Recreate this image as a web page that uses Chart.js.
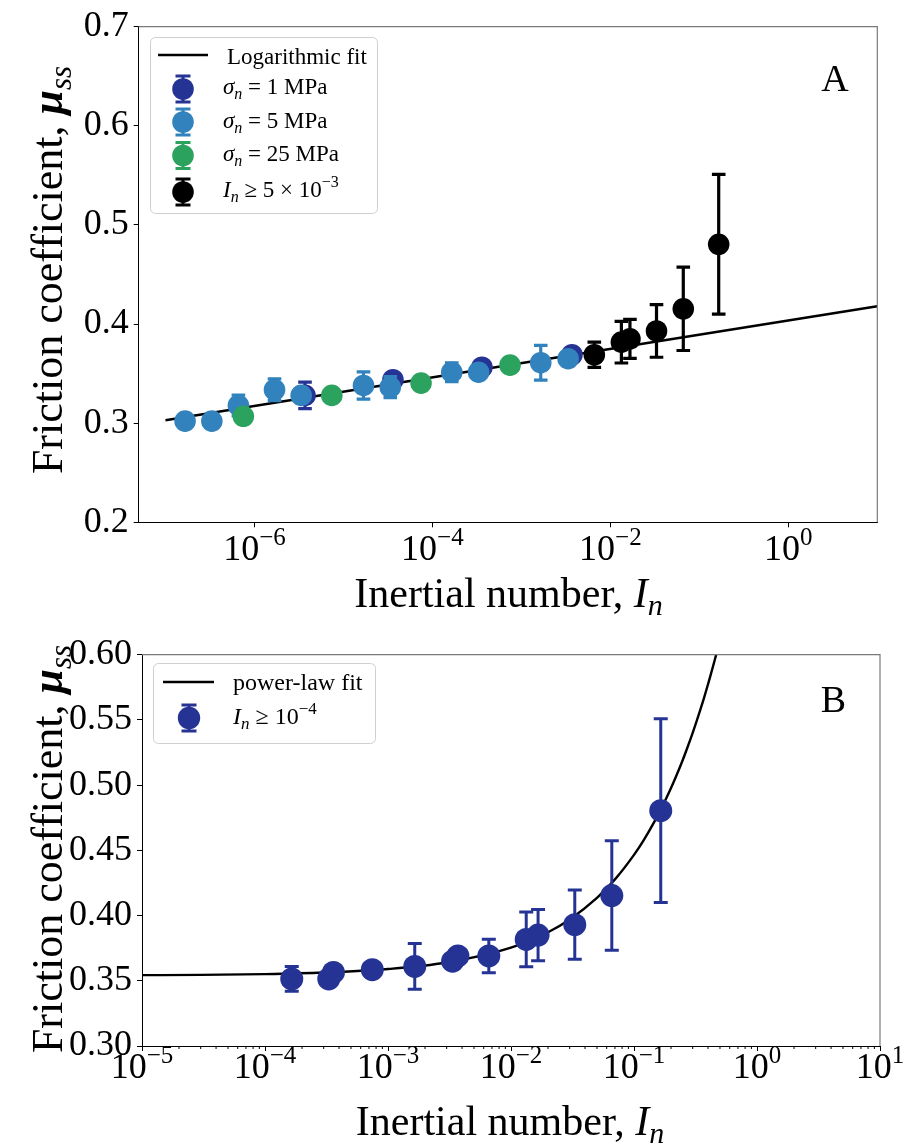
<!DOCTYPE html>
<html><head><meta charset="utf-8">
<script src="https://cdn.jsdelivr.net/npm/chart.js@4.4.1/dist/chart.umd.min.js"></script>
<style>
html,body{margin:0;padding:0;background:#fff;}
#wrap{position:relative;width:903px;height:1148px;overflow:hidden;background:#fff;}
.panel{position:absolute;left:0;width:903px;}
#pA{top:0;height:628px;}
#pB{top:628px;height:520px;}
</style></head><body>
<div id="wrap">
<div class="panel" id="pA"><canvas id="cA" width="903" height="628"></canvas></div>
<div class="panel" id="pB"><canvas id="cB" width="903" height="520"></canvas></div>
</div>
<script>
// ================= DATA =================
// Panel A: sigma_n = 1 MPa (dark blue)
const s1X   = [3.7e-6, 3.6e-5, 3.6e-4, 3.7e-3];
const s1Y   = [0.3280, 0.3438, 0.3564, 0.3690];
const s1Err = [0.0134, 0.004, 0.004, 0.004];
// Panel A: sigma_n = 5 MPa (light blue)
const s5X   = [1.66e-7, 3.32e-7, 6.6e-7, 1.68e-6, 3.35e-6, 1.68e-5, 3.36e-5, 1.65e-4, 3.3e-4, 1.65e-3, 3.35e-3];
const s5Y   = [0.3021, 0.3021, 0.3179, 0.3337, 0.3280, 0.3380, 0.3363, 0.3514, 0.3514, 0.3610, 0.3650];
const s5Err = [0.003, 0.003, 0.0105, 0.011, 0.004, 0.0137, 0.0106, 0.0095, 0.004, 0.0175, 0.004];
// Panel A: sigma_n = 25 MPa (green)
const s25X   = [7.5e-7, 7.4e-6, 7.45e-5, 7.45e-4];
const s25Y   = [0.3069, 0.3280, 0.3404, 0.3585];
const s25Err = [0.003, 0.003, 0.003, 0.003];
// Panel A: I_n >= 5e-3 (black)
const hiX   = [6.6e-3, 0.0133, 0.0166, 0.033, 0.066, 0.165];
const hiY   = [0.3690, 0.3817, 0.3850, 0.3930, 0.4153, 0.4804];
const hiErr = [0.0128, 0.021, 0.0196, 0.0265, 0.042, 0.0705];
// Panel A: logarithmic fit (read end points)
const logFitX = [1e-7, 10];
const logFitY = [0.3030, 0.4180];

// Panel B: I_n >= 1e-4
const bX   = [1.65e-4, 3.3e-4, 3.6e-4, 7.45e-4, 1.65e-3, 3.35e-3, 3.7e-3, 6.6e-3, 0.0133, 0.0166, 0.033, 0.066, 0.165];
const bY   = [0.3514, 0.3514, 0.3564, 0.3585, 0.3610, 0.3650, 0.3690, 0.3690, 0.3817, 0.3850, 0.3930, 0.4153, 0.4804];
const bErr = [0.0095, 0.004, 0.004, 0.003, 0.0175, 0.004, 0.004, 0.0128, 0.021, 0.0196, 0.0265, 0.042, 0.0705];
// Panel B: power-law fit
const powFitX = [1e-5, 3e-5, 1e-4, 3e-4, 1e-3, 3e-3, 1e-2, 2e-2, 3e-2, 5e-2, 7e-2, 0.1, 0.12, 0.15, 0.17, 0.2, 0.22, 0.25, 0.27, 0.3, 0.32, 0.35, 0.37, 0.4, 0.42, 0.45, 0.47];
const powFitY = [0.3543, 0.3545, 0.3551, 0.3563, 0.3590, 0.3640, 0.3754, 0.3872, 0.3970, 0.4135, 0.4277, 0.4465, 0.4578, 0.4737, 0.4836, 0.4977, 0.5067, 0.5196, 0.5280, 0.5400, 0.5478, 0.5592, 0.5665, 0.5774, 0.5844, 0.5947, 0.6015];

// Ticks (log labels are "10" with the exponent as superscript)
const xTicksA = [1e-6, 1e-4, 1e-2, 1];
const xTickExpA = ['\u22126', '\u22124', '\u22122', '0'];
const yTicksA = [0.2, 0.3, 0.4, 0.5, 0.6, 0.7];
const yTickLabelsA = ['0.2', '0.3', '0.4', '0.5', '0.6', '0.7'];
const xTicksB = [1e-5, 1e-4, 1e-3, 1e-2, 1e-1, 1, 10];
const xTickExpB = ['\u22125', '\u22124', '\u22123', '\u22122', '\u22121', '0', '1'];
const yTicksB = [0.30, 0.35, 0.40, 0.45, 0.50, 0.55, 0.60];
const yTickLabelsB = ['0.30', '0.35', '0.40', '0.45', '0.50', '0.55', '0.60'];

// ================= STYLE =================
const SERIF = '"Liberation Serif", "DejaVu Serif", "Times New Roman", serif';
const C_DARK = '#253494', C_LIGHT = '#3182bd', C_GREEN = '#2ca25f', C_BLACK = '#000000';

const pts = (xs, ys) => xs.map((x, i) => ({x: x, y: ys[i]}));

function markerSet(label, xs, ys, errs, color, r, order, errW, cap) {
  return {
    label: label, data: pts(xs, ys), errors: errs, errColor: color, errWidth: errW, errCap: cap,
    showLine: false, pointRadius: r, pointHoverRadius: r, pointBackgroundColor: color,
    pointBorderWidth: 0, borderColor: color, backgroundColor: color, order: order
  };
}
function lineSet(label, xs, ys, w, order) {
  return {
    label: label, data: pts(xs, ys), showLine: true, pointRadius: 0, pointHoverRadius: 0,
    borderColor: '#000', borderWidth: w, backgroundColor: '#000', order: order,
    cubicInterpolationMode: 'monotone', fill: false
  };
}

// error bars drawn through the y scale right before each dataset's markers
const errorBarPlugin = {
  id: 'errbars',
  beforeDatasetDraw(chart, args) {
    const ds = chart.data.datasets[args.index];
    if (!ds.errors) return;
    const ys = chart.scales.y, ctx = chart.ctx, cap = ds.errCap;
    ctx.save();
    ctx.strokeStyle = ds.errColor; ctx.lineWidth = ds.errWidth; ctx.lineCap = 'butt';
    ds.data.forEach((d, i) => {
      const el = args.meta.data[i];
      const yT = ys.getPixelForValue(d.y + ds.errors[i]);
      const yB = ys.getPixelForValue(d.y - ds.errors[i]);
      ctx.beginPath();
      ctx.moveTo(el.x, yT); ctx.lineTo(el.x, yB);
      ctx.moveTo(el.x - cap, yT); ctx.lineTo(el.x + cap, yT);
      ctx.moveTo(el.x - cap, yB); ctx.lineTo(el.x + cap, yB);
      ctx.stroke();
    });
    ctx.restore();
  }
};

function fontOf(r) { return (r.it ? 'italic ' : '') + (r.bold ? 'bold ' : '') + r.sz + 'px ' + SERIF; }
function runsWidth(ctx, runs) {
  let w = 0;
  for (const r of runs) { ctx.font = fontOf(r); w += ctx.measureText(r.t).width; }
  return w;
}
function rich(ctx, x, y, runs) {
  let cx = x;
  ctx.textBaseline = 'alphabetic'; ctx.textAlign = 'left'; ctx.fillStyle = '#000';
  for (const r of runs) {
    ctx.font = fontOf(r);
    ctx.fillText(r.t, cx, y + (r.dy || 0));
    cx += ctx.measureText(r.t).width;
  }
}
function richCentered(ctx, cx, baseline, runs, rot) {
  ctx.save();
  ctx.translate(cx, baseline);
  if (rot) ctx.rotate(rot);
  const w = runsWidth(ctx, runs);
  rich(ctx, -w / 2, 0, runs);
  ctx.restore();
}
function roundRect(ctx, x, y, w, h, r) {
  ctx.beginPath();
  ctx.moveTo(x + r, y); ctx.lineTo(x + w - r, y); ctx.arcTo(x + w, y, x + w, y + r, r);
  ctx.lineTo(x + w, y + h - r); ctx.arcTo(x + w, y + h, x + w - r, y + h, r);
  ctx.lineTo(x + r, y + h); ctx.arcTo(x, y + h, x, y + h - r, r);
  ctx.lineTo(x, y + r); ctx.arcTo(x, y, x + r, y, r); ctx.closePath();
}
function legendMarker(ctx, x, y, color, r) {
  ctx.save();
  ctx.strokeStyle = color; ctx.lineWidth = 3;
  ctx.beginPath();
  ctx.moveTo(x - 7.5, y - 13); ctx.lineTo(x + 7.5, y - 13);
  ctx.moveTo(x - 7.5, y + 13); ctx.lineTo(x + 7.5, y + 13);
  ctx.moveTo(x, y - 13); ctx.lineTo(x, y + 13);
  ctx.stroke();
  ctx.fillStyle = color; ctx.beginPath(); ctx.arc(x, y, r, 0, Math.PI * 2); ctx.fill();
  ctx.restore();
}
function spines(chart) {
  const a = chart.chartArea, ctx = chart.ctx;
  ctx.save();
  ctx.strokeStyle = '#7a7a7a'; ctx.lineWidth = 1.2;
  ctx.beginPath();
  ctx.moveTo(a.left, a.top); ctx.lineTo(a.right, a.top); ctx.lineTo(a.right, a.bottom);
  ctx.stroke();
  ctx.restore();
}
// log-axis labels "10^k" placed through the x scale
function logLabels(chart, ticks, exps, baseline) {
  const ctx = chart.ctx, xs = chart.scales.x;
  ticks.forEach((v, i) => {
    const runs = [{t: '10', sz: 36}, {t: exps[i], sz: 25, dy: -15}];
    richCentered(ctx, xs.getPixelForValue(v), baseline, runs, 0);
  });
}
const Y_TITLE = [{t: 'Friction coefficient, ', sz: 44}, {t: '\u03BC', sz: 44, it: true, bold: true}, {t: 'ss', sz: 31, it: true, dy: 9}];
const X_TITLE = [{t: 'Inertial number, ', sz: 42}, {t: 'I', sz: 42, it: true}, {t: 'n', sz: 30, it: true, dy: 8}];

function baseOptions(xMin, xMax, xTicks, yMin, yMax, yTicks, yLabels, pad, yW, xH) {
  return {
    responsive: false, animation: false, devicePixelRatio: 1,
    layout: {padding: pad},
    plugins: {legend: {display: false}, tooltip: {enabled: false}},
    events: [],
    scales: {
      x: {
        type: 'logarithmic', min: xMin, max: xMax,
        afterBuildTicks: s => { s.ticks = xTicks.map(v => ({value: v, major: true})); },
        afterFit: s => { s.height = xH; },
        ticks: {display: false, autoSkip: false, maxRotation: 0, minRotation: 0},
        grid: {display: true, drawOnChartArea: false, drawTicks: true, tickLength: 5, tickColor: '#000', tickWidth: 1},
        border: {display: true, color: '#000', width: 1},
        title: {display: false}
      },
      y: {
        type: 'linear', min: yMin, max: yMax,
        afterBuildTicks: s => { s.ticks = yTicks.map(v => ({value: v})); },
        afterFit: s => { s.width = yW; },
        ticks: {autoSkip: false, padding: 5, color: '#000', font: {family: SERIF, size: 36},
          callback: (v) => { const i = yTicks.findIndex(t => Math.abs(t - v) < 1e-9); return i >= 0 ? yLabels[i] : ''; }},
        grid: {display: true, drawOnChartArea: false, drawTicks: true, tickLength: 5, tickColor: '#000', tickWidth: 1},
        border: {display: true, color: '#000', width: 1},
        title: {display: false}
      }
    }
  };
}

// ================= PANEL A =================
const decorA = {
  id: 'decorA',
  afterDraw(chart) {
    const ctx = chart.ctx;
    spines(chart);
    logLabels(chart, xTicksA, xTickExpA, 560);
    richCentered(ctx, 62, 270, Y_TITLE, -Math.PI / 2);
    richCentered(ctx, 508.5, 607, X_TITLE, 0);
    // legend
    ctx.save();
    roundRect(ctx, 150.5, 37.5, 227, 176, 5);
    ctx.fillStyle = 'rgba(255,255,255,0.8)'; ctx.fill();
    ctx.strokeStyle = '#cfcfcf'; ctx.lineWidth = 1; ctx.stroke();
    ctx.strokeStyle = '#000'; ctx.lineWidth = 2.5;
    ctx.beginPath(); ctx.moveTo(158, 55); ctx.lineTo(208, 55); ctx.stroke();
    ctx.restore();
    rich(ctx, 227, 64, [{t: 'Logarithmic fit', sz: 23}]);
    legendMarker(ctx, 183, 89, C_DARK, 10.8);
    rich(ctx, 223, 94, [{t: '\u03C3', sz: 23, it: true}, {t: 'n', sz: 16, it: true, dy: 5}, {t: ' = 1 MPa', sz: 23}]);
    legendMarker(ctx, 183, 122, C_LIGHT, 10.8);
    rich(ctx, 223, 127.5, [{t: '\u03C3', sz: 23, it: true}, {t: 'n', sz: 16, it: true, dy: 5}, {t: ' = 5 MPa', sz: 23}]);
    legendMarker(ctx, 183, 155.5, C_GREEN, 10.8);
    rich(ctx, 223, 161, [{t: '\u03C3', sz: 23, it: true}, {t: 'n', sz: 16, it: true, dy: 5}, {t: ' = 25 MPa', sz: 23}]);
    legendMarker(ctx, 183, 192, C_BLACK, 10.8);
    rich(ctx, 223, 197, [{t: 'I', sz: 23, it: true}, {t: 'n', sz: 16, it: true, dy: 5}, {t: ' \u2265 5 \u00D7 10', sz: 23}, {t: '\u22123', sz: 16, dy: -10}]);
    // panel letter
    ctx.save(); ctx.fillStyle = '#000'; ctx.font = '38px ' + SERIF; ctx.textAlign = 'center'; ctx.textBaseline = 'alphabetic';
    ctx.fillText('A', 835, 91); ctx.restore();
  }
};

new Chart(document.getElementById('cA'), {
  type: 'line',
  data: {datasets: [
    markerSet('I_n >= 5e-3', hiX, hiY, hiErr, C_BLACK, 10.8, 1, 3.2, 6.8),
    markerSet('sigma_n = 25 MPa', s25X, s25Y, s25Err, C_GREEN, 10.8, 2, 3.2, 6.8),
    markerSet('sigma_n = 5 MPa', s5X, s5Y, s5Err, C_LIGHT, 10.8, 3, 3.2, 6.8),
    markerSet('sigma_n = 1 MPa', s1X, s1Y, s1Err, C_DARK, 10.8, 4, 3.2, 6.8),
    lineSet('Logarithmic fit', logFitX, logFitY, 2.6, 5)
  ]},
  options: baseOptions(5e-8, 10, xTicksA, 0.2, 0.7, yTicksA, yTickLabelsA,
    {left: 0, top: 25, right: 25.7, bottom: 0}, 138.7, 105.7),
  plugins: [errorBarPlugin, decorA]
});

// ================= PANEL B =================
const decorB = {
  id: 'decorB',
  afterDraw(chart) {
    const ctx = chart.ctx, xs = chart.scales.x, a = chart.chartArea;
    spines(chart);
    // minor ticks on log axis
    ctx.save(); ctx.strokeStyle = '#000'; ctx.lineWidth = 1;
    for (let k = -5; k <= 0; k++) {
      for (let m = 2; m <= 9; m++) {
        const px = xs.getPixelForValue(m * Math.pow(10, k));
        ctx.beginPath(); ctx.moveTo(px, a.bottom); ctx.lineTo(px, a.bottom + 3); ctx.stroke();
      }
    }
    ctx.restore();
    logLabels(chart, xTicksB, xTickExpB, 450);
    richCentered(ctx, 62, 221, Y_TITLE, -Math.PI / 2);
    richCentered(ctx, 510, 507, X_TITLE, 0);
    // legend
    ctx.save();
    roundRect(ctx, 153.5, 35.5, 222, 80, 5);
    ctx.fillStyle = 'rgba(255,255,255,0.8)'; ctx.fill();
    ctx.strokeStyle = '#cfcfcf'; ctx.lineWidth = 1; ctx.stroke();
    ctx.strokeStyle = '#000'; ctx.lineWidth = 2.5;
    ctx.beginPath(); ctx.moveTo(163, 54); ctx.lineTo(214, 54); ctx.stroke();
    ctx.restore();
    rich(ctx, 233, 62, [{t: 'power-law fit', sz: 24}]);
    legendMarker(ctx, 189, 90, C_DARK, 11.2);
    rich(ctx, 233, 95.5, [{t: 'I', sz: 24, it: true}, {t: 'n', sz: 17, it: true, dy: 5}, {t: ' \u2265 10', sz: 24}, {t: '\u22124', sz: 17, dy: -10}]);
    // panel letter
    ctx.save(); ctx.fillStyle = '#000'; ctx.font = '38px ' + SERIF; ctx.textAlign = 'center'; ctx.textBaseline = 'alphabetic';
    ctx.fillText('B', 833.5, 84); ctx.restore();
  }
};

new Chart(document.getElementById('cB'), {
  type: 'line',
  data: {datasets: [
    markerSet('I_n >= 1e-4', bX, bY, bErr, C_DARK, 11.5, 1, 3, 7),
    lineSet('power-law fit', powFitX, powFitY, 2.4, 5)
  ]},
  options: baseOptions(1e-5, 10, xTicksB, 0.30, 0.60, yTicksB, yTickLabelsB,
    {left: 0, top: 22.7, right: 23, bottom: 0}, 142, 102),
  plugins: [errorBarPlugin, decorB]
});
</script>
</body></html>
